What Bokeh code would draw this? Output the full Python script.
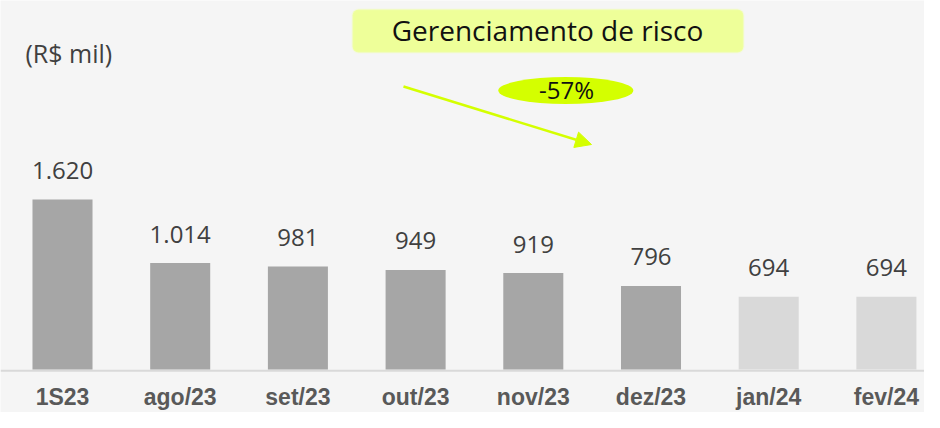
from bokeh.plotting import figure
from bokeh.models import ColumnDataSource, Range1d, Span, BoxAnnotation, Label, Arrow, NormalHead
from bokeh.core.properties import value
from bokeh.embed import file_html
from bokeh.resources import INLINE

# ---- data ----
categories = ["1S23", "ago/23", "set/23", "out/23", "nov/23", "dez/23", "jan/24", "fev/24"]
values = [1620, 1014, 981, 949, 919, 796, 694, 694]
value_labels = ["1.620", "1.014", "981", "949", "919", "796", "694", "694"]
highlight = [False, False, False, False, False, False, True, True]
title_text = "Gerenciamento de risco"
unit_text = "(R$ mil)"
change_text = "-57%"

# ---- layout ----
W, H = 924, 412
PX_X = 117.7
x_start = -62 / PX_X
x_end = x_start + W / PX_X
BASE = 369
PX_Y = (BASE - 199) / 1620.0
y_end = BASE / PX_Y
y_start = y_end - H / PX_Y


def dx(px):
    return x_start + px / PX_X


def dy(py):
    return y_end - py / PX_Y


BG = "#f5f5f5"
colors = ["#d9d9d9" if h else "#a6a6a6" for h in highlight]

src = ColumnDataSource(dict(x=list(range(len(categories))), top=values,
                            lab=value_labels, cat=categories, color=colors,
                            zero=[0] * len(categories)))

p = figure(width=W, height=H, x_range=Range1d(x_start, x_end), y_range=Range1d(y_start, y_end),
           output_backend="svg", toolbar_location=None, min_border=0,
           x_axis_location=None, y_axis_location=None,
           background_fill_color=BG, border_fill_color=BG, outline_line_color=None)
p.grid.visible = False

p.add_layout(Span(location=-1.2 / PX_Y, dimension="width", line_color="#d9d9d9", line_width=2,
                  level="underlay"))

p.vbar(x="x", top="top", width=0.51, source=src, fill_color="color", line_color=None)

p.text(x="x", y="top", text="lab", source=src, y_offset=-29, text_align="center",
       text_baseline="middle", text_font=value("Open Sans"), text_font_size="24px",
       text_color="#404040")

p.text(x="x", y="zero", text="cat", source=src, y_offset=27, text_align="center",
       text_baseline="alphabetic", text_font=value("Liberation Sans"), text_font_style="bold",
       text_font_size="23px", text_color="#595959")

# title box
p.add_layout(BoxAnnotation(left=dx(352), right=dx(743), top=dy(9), bottom=dy(52),
                           fill_color="#eeff99", fill_alpha=1, line_color="#f3ffbb",
                           line_width=2, border_radius=6))
p.add_layout(Label(x=dx(547), y=dy(29.5), text=title_text, text_align="center",
                   text_baseline="middle", text_font="Open Sans", text_font_size="28px",
                   text_color="#111111"))

p.add_layout(Label(x=dx(25), y=dy(52), text=unit_text, text_align="left",
                   text_baseline="middle", text_font="Open Sans", text_font_size="25px",
                   text_color="#404040"))

# arrow and ellipse
p.add_layout(Arrow(end=NormalHead(size=16, fill_color="#d4ff00", line_color="#d4ff00"),
                   x_start=dx(403), y_start=dy(86), x_end=dx(591), y_end=dy(144),
                   line_color="#d4ff00", line_width=2.5))

p.ellipse(x=[dx(565.3)], y=[dy(90)], width=135, height=27, width_units="screen",
          height_units="screen", fill_color="#d4ff00", line_color=None)
p.add_layout(Label(x=dx(566), y=dy(89), text=change_text, text_align="center",
                   text_baseline="middle", text_font="Open Sans", text_font_size="24px",
                   text_color="#111111"))

html = file_html(p, INLINE)
html = html.replace("<body>", '<body style="background-color:#f5f5f5">', 1)
open("out.html", "w").write(html)
